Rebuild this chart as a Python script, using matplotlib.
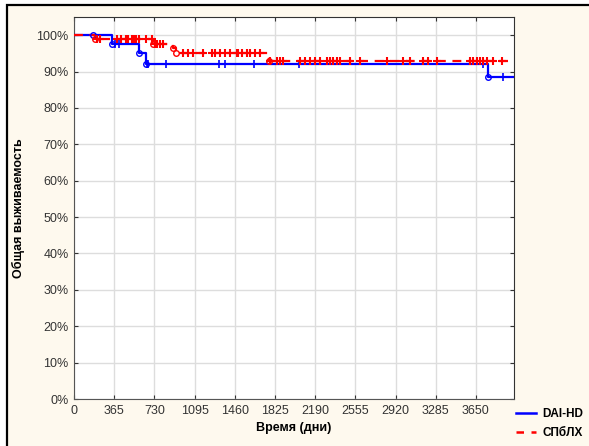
import matplotlib
matplotlib.use("Agg")
import matplotlib.pyplot as plt
from matplotlib.patches import Rectangle
import numpy as np

plt.rcParams['font.family'] = ['Liberation Sans', 'DejaVu Sans']

# Kaplan-Meier steps (days, survival %)
dai_t = [0, 345, 590, 654, 3760, 4000]
dai_s = [100, 97.5, 95.0, 92.0, 88.5, 88.5]
dai_cens = [372, 409, 663, 672, 836, 1317, 1371, 1635, 2044, 3715, 3897]

spb_t = [0, 190, 720, 900, 930, 1770, 4000]
spb_s = [100, 99.0, 97.6, 96.4, 95.2, 93.0, 93.0]
spb_cens = [209, 236, 391, 427, 472, 490, 527, 545, 563, 590, 654, 708,
            736, 754, 781, 808,
            990, 1035, 1081, 1172, 1253, 1281, 1326, 1371, 1417, 1480, 1490,
            1526, 1571, 1599, 1644, 1689,
            1780, 1844, 1871, 1898, 2053, 2098, 2144, 2189, 2234, 2298, 2325,
            2352, 2389, 2416, 2507, 2598, 2843, 2988, 3052, 3170, 3215, 3297,
            3597, 3624, 3660, 3688, 3715, 3751, 3806, 3888]

x_ticks = [0, 365, 730, 1095, 1460, 1825, 2190, 2555, 2920, 3285, 3650]
y_ticks = list(range(0, 101, 10))

cream = '#FEF9EE'
blue = '#0000FF'
red = '#FF0000'


def level_at(t, times, surv):
    idx = np.searchsorted(times, t, side='right') - 1
    return surv[idx]


fig = plt.figure(figsize=(5.89, 4.46), dpi=100)
fig.patch.set_facecolor('white')
fig.patches.append(Rectangle((7 / 589, -0.01), 1.0, 1 - 5 / 446 + 0.01,
                             transform=fig.transFigure, facecolor=cream,
                             edgecolor='black', linewidth=1.6, zorder=-1))

ax = fig.add_axes([74 / 589, 1 - 399 / 446, 440 / 589, 382 / 446])
ax.set_facecolor('white')

# DAI-HD
ax.plot(dai_t, dai_s, drawstyle='steps-post', color=blue, lw=1.6, zorder=3)
ax.plot(dai_cens, [level_at(t, dai_t, dai_s) for t in dai_cens], '|',
        color=blue, ms=6, mew=1.2, zorder=4)
ax.plot([173] + dai_t[1:5], [100] + dai_s[1:5], 'o', color=blue, ms=4,
        mfc='none', mew=1, zorder=4)

# СПбЛХ
ax.plot(spb_t, spb_s, drawstyle='steps-post', color=red, lw=1.6,
        dashes=(4, 3), zorder=3)
ax.plot(spb_cens, [level_at(t, spb_t, spb_s) for t in spb_cens], '+',
        color=red, ms=6, mew=1.5, zorder=4)
ax.plot(spb_t[1:6], spb_s[1:6], 'o', color=red, ms=4, mfc='none', mew=1,
        zorder=4)

ax.set_xlim(0, 3996)
ax.set_ylim(0, 105)
ax.set_xticks(x_ticks)
ax.set_yticks(y_ticks)
ax.set_yticklabels([f'{v}%' for v in y_ticks])
ax.grid(True, color='#DDDDDD', lw=1)
ax.set_axisbelow(True)
ax.tick_params(direction='in', length=3, top=True, right=True,
               labelsize=9, colors='#333333', pad=4)
for side in ['bottom', 'left']:
    ax.spines[side].set_color('#555555')
for side in ['top', 'right']:
    ax.spines[side].set_color('#333333')

ax.set_xlabel('Время (дни)', fontsize=9, fontweight='bold', labelpad=4)
ax.set_ylabel('Общая выживаемость', fontsize=9, fontweight='bold', labelpad=8)

h1, = ax.plot([], [], color=blue, lw=1.8)
h2, = ax.plot([], [], color=red, lw=1.8, dashes=(3, 3))
fig.legend([h1, h2], ['DAI-HD', 'СПбЛХ'], loc='lower left',
           bbox_to_anchor=(509 / 589, 0.0), frameon=False, handlelength=1.7,
           handletextpad=0.5, labelspacing=0.55, borderaxespad=0.2,
           prop={'size': 8.5, 'weight': 'bold'})

fig.savefig('out.png', dpi=100)
